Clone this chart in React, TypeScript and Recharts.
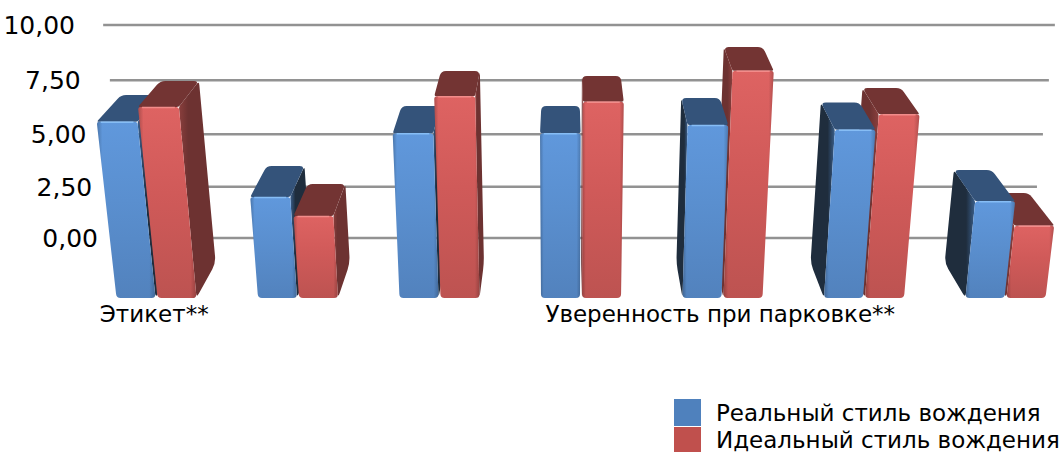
import { Bar, BarChart, CartesianGrid, XAxis, YAxis } from 'recharts';

const categories = ['Этикет**', '', '', '', 'Уверенность при парковке**', '', ''];
const realStyle = [6.71, 3.38, 6.2, 6.2, 6.57, 6.36, 3.19];
const idealStyle = [7.37, 2.54, 7.84, 7.6, 8.97, 7.04, 2.11];
const yTicks = [0, 2.5, 5, 7.5, 10];
const legendLabels = ['Реальный стиль вождения', 'Идеальный стиль вождения'];

// left of this index red overlaps blue, from here on blue overlaps red
const firstFrontBlue = 3;

const rows = categories.map((name, i) => {
  const left = i < firstFrontBlue;
  return {
    name,
    realLeft: left ? realStyle[i] : null,
    realRight: left ? null : realStyle[i],
    idealLeft: left ? idealStyle[i] : null,
    idealRight: left ? null : idealStyle[i],
  };
});

const FONT = '"DejaVu Sans", sans-serif';
const VANISH_X = 565;

const blue = {
  id: 'blue',
  top: '#34537a',
  side: '#1f2d3d',
  sideEdge: '#3a5f8c',
  light: '#6098dc',
  mid: '#5a8fcf',
  dark: '#5282bd',
  shine: '#86bdf5',
  swatch: '#4f81bd',
};
const red = {
  id: 'red',
  top: '#733433',
  side: '#6d3231',
  sideEdge: '#8a3f3d',
  light: '#de6362',
  mid: '#d05a59',
  dark: '#bd5351',
  shine: '#f28c8a',
  swatch: '#c0504d',
};

type Pt = [number, number];

// polygon outline with its corners cut by small curves
function roundedPath(pts: Pt[], radii: number[]) {
  let d = '';
  pts.forEach((p, i) => {
    const prev = pts[(i + pts.length - 1) % pts.length];
    const next = pts[(i + 1) % pts.length];
    const r = radii[i];
    const toward = (q: Pt): Pt => {
      const len = Math.hypot(q[0] - p[0], q[1] - p[1]) || 1;
      const k = Math.min(r, len / 2) / len;
      return [p[0] + (q[0] - p[0]) * k, p[1] + (q[1] - p[1]) * k];
    };
    const a = toward(prev);
    const b = toward(next);
    d += `${i ? 'L' : 'M'}${a[0]},${a[1]} Q${p[0]},${p[1]} ${b[0]},${b[1]} `;
  });
  return d + 'Z';
}

// the bars lean toward a point far below the floor and shrink toward the wall
const lean = (x: number, floorY: number, y: number) => x + ((x - VANISH_X) * (floorY - y)) / 4000;
const toBack = (x: number) => x - (x - VANISH_X) * 0.052;

function prism(palette: typeof blue) {
  return (props: any) => {
    const { x, y, width, height } = props;
    if (!height || height <= 0) return <g />;
    const zero = y + height;
    const floorFront = zero + 60;
    const floorBack = zero + 25;
    const frontY = y * 1.06 + 21;
    const xl = x;
    const xr = x + width;

    const fl: Pt = [lean(xl, floorFront, frontY), frontY];
    const fr: Pt = [lean(xr, floorFront, frontY), frontY];
    const bl: Pt = [toBack(fl[0]), y];
    const br: Pt = [toBack(fr[0]), y];

    let sideFace = null;
    if (xr < VANISH_X) {
      const pts: Pt[] = [fr, br, [toBack(xr), floorBack], [xr, floorFront]];
      sideFace = (
        <path d={roundedPath(pts, [2, 4, 7, 5])} fill={`url(#side-r-${palette.id})`} />
      );
    } else if (xl > VANISH_X) {
      const pts: Pt[] = [fl, bl, [toBack(xl), floorBack], [xl, floorFront]];
      sideFace = (
        <path d={roundedPath(pts, [2, 4, 7, 5])} fill={`url(#side-l-${palette.id})`} />
      );
    }

    const front: Pt[] = [fl, fr, [xr, floorFront], [xl, floorFront]];
    const frontPath = roundedPath(front, [3, 3, 4, 4]);
    return (
      <g>
        {sideFace}
        <path d={roundedPath([fl, bl, br, fr], [2, 5, 5, 2])} fill={palette.top} />
        <path d={frontPath} fill={`url(#front-${palette.id})`} />
        <path d={frontPath} fill="url(#bevel)" />
        <line
          x1={fl[0] + 4}
          y1={frontY + 0.5}
          x2={fr[0] - 4}
          y2={frontY + 0.5}
          stroke={palette.shine}
          strokeWidth={1.5}
        />
      </g>
    );
  };
}

function faceGradients(p: typeof blue) {
  return [
    <linearGradient key={`f${p.id}`} id={`front-${p.id}`} x1="0" y1="0" x2="0" y2="1">
      <stop offset="0%" stopColor={p.light} />
      <stop offset="45%" stopColor={p.mid} />
      <stop offset="100%" stopColor={p.dark} />
    </linearGradient>,
    <linearGradient key={`r${p.id}`} id={`side-r-${p.id}`} x1="0" y1="0" x2="1" y2="0">
      <stop offset="0%" stopColor={p.sideEdge} />
      <stop offset="25%" stopColor={p.side} />
      <stop offset="100%" stopColor={p.side} />
    </linearGradient>,
    <linearGradient key={`l${p.id}`} id={`side-l-${p.id}`} x1="1" y1="0" x2="0" y2="0">
      <stop offset="0%" stopColor={p.sideEdge} />
      <stop offset="30%" stopColor={p.side} />
      <stop offset="100%" stopColor={p.side} />
    </linearGradient>,
  ];
}

// the back wall is slightly curved by the perspective, so the lines don't sit evenly
const wallY = (y: number) => y + 2.36e-4 * (y - 25) * (238 - y);

function WallLine(props: any) {
  const { y1, index } = props;
  const y = wallY(y1);
  return (
    <line
      key={index}
      x1={130 - (238 - y1) * 0.126}
      x2={1031 + (238 - y1) * 0.112}
      y1={y}
      y2={y}
      stroke="#929292"
      strokeWidth={2.5}
    />
  );
}

function ValueTick(props: any) {
  const { y, payload } = props;
  return (
    <text
      x={98 - (238 - y) * 0.108}
      y={wallY(y) + 9}
      textAnchor="end"
      fontFamily={FONT}
      fontSize={25}
      fill="#000"
    >
      {payload.value.toFixed(2).replace('.', ',')}
    </text>
  );
}

function CategoryTick(props: any) {
  const { x, payload } = props;
  if (!payload.value) return <g />;
  return (
    <text x={x - 2} y={322} textAnchor="middle" fontFamily={FONT} fontSize={23} fill="#000">
      {payload.value}
    </text>
  );
}

function WallLegend() {
  const swatches = [blue.swatch, red.swatch];
  return (
    <div style={{ position: 'absolute', left: 674, top: 398, fontFamily: FONT, fontSize: 23 }}>
      {legendLabels.map((label, i) => (
        <div key={label} style={{ display: 'flex', alignItems: 'center', height: i ? 25 : 29 }}>
          <div style={{ width: 27, height: i ? 25 : 27, background: swatches[i], marginRight: 15 }} />
          <span style={{ whiteSpace: 'nowrap', color: '#000' }}>{label}</span>
        </div>
      ))}
    </div>
  );
}

export default function App() {
  return (
    <div
      style={{
        position: 'absolute',
        left: 0,
        top: 0,
        width: 1061,
        height: 452,
        overflow: 'hidden',
        background: '#fff',
      }}
    >
      <BarChart
        width={1100}
        height={452}
        data={rows}
        margin={{ top: 25, right: 24, bottom: 0, left: 0 }}
        barSize={39}
        barGap={2}
      >
        <defs>
          {faceGradients(blue)}
          {faceGradients(red)}
          <linearGradient id="bevel" x1="0" y1="0" x2="1" y2="0">
            <stop offset="0%" stopColor="#000" stopOpacity={0.22} />
            <stop offset="9%" stopColor="#000" stopOpacity={0} />
            <stop offset="90%" stopColor="#000" stopOpacity={0} />
            <stop offset="100%" stopColor="#000" stopOpacity={0.2} />
          </linearGradient>
        </defs>
        <CartesianGrid vertical={false} horizontal={WallLine} />
        <XAxis
          dataKey="name"
          height={214}
          interval={0}
          axisLine={false}
          tickLine={false}
          tick={CategoryTick}
        />
        <YAxis
          width={85.5}
          domain={[0, 10]}
          ticks={yTicks}
          axisLine={false}
          tickLine={false}
          tick={ValueTick}
        />
        <Bar dataKey="realLeft" stackId="real" shape={prism(blue)} isAnimationActive={false} />
        <Bar dataKey="idealRight" stackId="ideal" shape={prism(red)} isAnimationActive={false} />
        <Bar dataKey="realRight" stackId="real" shape={prism(blue)} isAnimationActive={false} />
        <Bar dataKey="idealLeft" stackId="ideal" shape={prism(red)} isAnimationActive={false} />
      </BarChart>
      <WallLegend />
    </div>
  );
}
